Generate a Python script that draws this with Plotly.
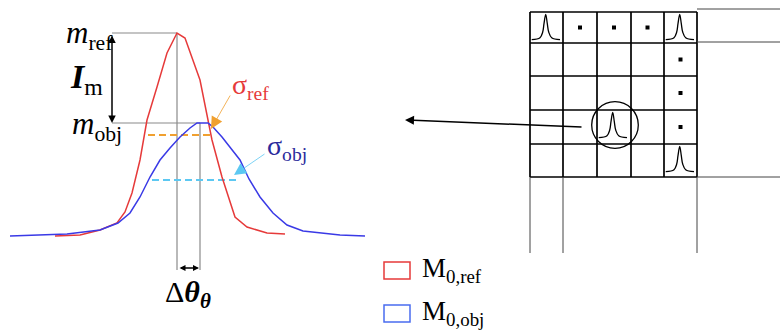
import plotly.graph_objects as go

# ---- data (pixel-space schematic) ----
ref_x = [55, 80, 100, 117, 125, 132, 140, 147, 157, 167, 177, 185, 200, 212, 222, 235, 247, 267, 285]
ref_y = [236, 235, 230, 223, 212, 193, 160, 120, 87, 53, 33, 38, 80, 140, 177, 217, 227, 233, 234]

obj_x = [10, 67, 100, 118, 130, 140, 150, 160, 170, 180, 190, 197, 208, 213, 222, 230, 240, 249, 260, 273, 287, 303, 320, 340, 365]
obj_y = [236, 234, 230, 223, 213, 197, 177, 160, 148, 137, 128, 123, 123, 127, 137, 147, 160, 179, 197, 213, 225, 231, 233, 235, 236]

m_ref_level = 33
m_obj_level = 123
peak_ref_x = 177
peak_obj_x = 200
guide_left_x = 112
guide_bottom_y = 268
sigma_ref_level = 135
sigma_ref_span = [148, 210]
sigma_obj_level = 180
sigma_obj_span = [152, 240]

grid_rows = [12, 43, 76, 110, 144, 177]
grid_cols = [530, 563, 597, 631, 664, 697]
peak_cells = [(0, 0), (0, 4), (4, 4), (3, 2)]
dot_cells = [(0, 1), (0, 2), (0, 3), (1, 4), (2, 4), (3, 4)]
glyph_dx = [1.7, 10, 12.7, 14, 15.7, 17.3, 18.7, 21.7, 30]
glyph_dy = [27.7, 25.7, 20, 11.7, 2.3, 11.7, 20, 25.7, 27.7]
circle_center = (615, 125)
circle_r = 23.3

RED = "#e63a3a"
BLUE = "#3a3ae6"
GRAY = "#8a8a8a"
ORANGE = "#f0a030"
LBLUE = "#5cc8f2"
NAVY = "#2a2a9c"
SERIF = "Liberation Serif"

fig = go.Figure()

fig.add_trace(go.Scatter(x=ref_x, y=ref_y, mode="lines", line=dict(color=RED, width=1.5),
                         hoverinfo="skip", showlegend=False))
fig.add_trace(go.Scatter(x=obj_x, y=obj_y, mode="lines", line=dict(color=BLUE, width=1.5),
                         hoverinfo="skip", showlegend=False))

shapes = []
def line(x0, y0, x1, y1, color="black", width=1, dash="solid"):
    shapes.append(dict(type="line", xref="x", yref="y", x0=x0, y0=y0, x1=x1, y1=y1,
                       line=dict(color=color, width=width, dash=dash), layer="below"))

# guide lines
line(guide_left_x, m_ref_level, peak_ref_x, m_ref_level, GRAY, 1.2)
line(guide_left_x, m_obj_level, peak_obj_x, m_obj_level, GRAY, 1.2)
line(peak_ref_x, m_ref_level, peak_ref_x, guide_bottom_y + 2, GRAY, 1.2)
line(peak_obj_x, m_obj_level, peak_obj_x, guide_bottom_y + 2, GRAY, 1.2)
# dashed widths
line(sigma_ref_span[0], sigma_ref_level, sigma_ref_span[1], sigma_ref_level, ORANGE, 2, "7px,4px")
line(sigma_obj_span[0], sigma_obj_level, sigma_obj_span[1], sigma_obj_level, LBLUE, 2, "7px,4px")

# grid
for ry in grid_rows:
    line(grid_cols[0], ry, grid_cols[-1], ry, "black", 1.7)
for cx in grid_cols:
    line(cx, grid_rows[0], cx, grid_rows[-1], "black", 1.7)
# extensions
line(grid_cols[-1], 9, 780, 9, "#444", 1)
line(grid_cols[-1], 42, 780, 42, "#444", 1)
line(grid_cols[-1], grid_rows[-1], 780, grid_rows[-1], "#444", 1)
for cx in [grid_cols[0], grid_cols[1], grid_cols[-1]]:
    line(cx, grid_rows[-1], cx, 253, "#444", 1)

# circle
shapes.append(dict(type="circle", xref="x", yref="y",
                   x0=circle_center[0] - circle_r, x1=circle_center[0] + circle_r,
                   y0=circle_center[1] - circle_r, y1=circle_center[1] + circle_r,
                   line=dict(color="black", width=1.3)))

# legend boxes
shapes.append(dict(type="rect", xref="x", yref="y", x0=384, x1=410, y0=262, y1=279,
                   line=dict(color=RED, width=1.5)))
shapes.append(dict(type="rect", xref="x", yref="y", x0=384, x1=410, y0=305, y1=322,
                   line=dict(color="#4a6cf0", width=1.5)))

# small peak glyphs
for (r, c) in peak_cells:
    x0, y0 = grid_cols[c], grid_rows[r]
    fig.add_trace(go.Scatter(x=[x0 + d for d in glyph_dx], y=[y0 + d for d in glyph_dy],
                             mode="lines", line=dict(color="black", width=1.3, shape="spline"),
                             hoverinfo="skip", showlegend=False))
# dots
fig.add_trace(go.Scatter(
    x=[(grid_cols[c] + grid_cols[c + 1]) / 2 for (r, c) in dot_cells],
    y=[(grid_rows[r] + grid_rows[r + 1]) / 2 for (r, c) in dot_cells],
    mode="markers", marker=dict(color="black", size=4, symbol="square"),
    hoverinfo="skip", showlegend=False))

ann = []
def arrow(x, y, ax, ay, color, width=1.2, head=2, size=1.0, start=False):
    ann.append(dict(x=x, y=y, ax=ax, ay=ay, xref="x", yref="y", axref="x", ayref="y",
                    showarrow=True, arrowhead=head, arrowsize=size, arrowwidth=width,
                    arrowcolor=color, text="",
                    arrowside="end+start" if start else "end", startarrowhead=head,
                    startarrowsize=size))

arrow(guide_left_x, m_obj_level, guide_left_x, m_ref_level + 1, "black", 1.5, 2, 1.0, True)
arrow(peak_obj_x - 1, guide_bottom_y, peak_ref_x + 1, guide_bottom_y, "black", 1.5, 2, 0.8, True)
arrow(405, 120, 583, 127, "black", 1.5, 2, 1.2)
arrow(211, 129, 231, 94, ORANGE, 0.8, 2, 3)
arrow(234, 175, 266, 153, LBLUE, 0.8, 2, 3)

def text(x, y, t, size, color="black", xanchor="left", yanchor="middle"):
    ann.append(dict(x=x, y=y, xref="x", yref="y", text=t, showarrow=False,
                    xanchor=xanchor, yanchor=yanchor,
                    font=dict(family=SERIF, size=size, color=color)))

text(64, 35, "<i>m</i><sub>ref</sub>", 31)
text(68, 79, "<b><i>I</i></b><sub>m</sub>", 34)
text(70, 126, "<i>m</i><sub>obj</sub>", 31)
text(230, 86, "σ<sub>ref</sub>", 28, RED)
text(265, 147, "σ<sub>obj</sub>", 28, NAVY)
text(163, 294, "Δ<b><i>θ</i></b><sub><b><i>θ</i></b></sub>", 30)
text(420, 270, "M<sub>0,ref</sub>", 27)
text(420, 313, "M<sub>0,obj</sub>", 27)

fig.update_layout(
    width=780, height=336, autosize=False,
    margin=dict(l=0, r=0, t=0, b=0, pad=0),
    paper_bgcolor="white", plot_bgcolor="white",
    xaxis=dict(range=[0, 780], visible=False, fixedrange=True),
    yaxis=dict(range=[336, 0], visible=False, fixedrange=True),
    shapes=shapes, annotations=ann, showlegend=False,
)

fig.write_html("out.html")
